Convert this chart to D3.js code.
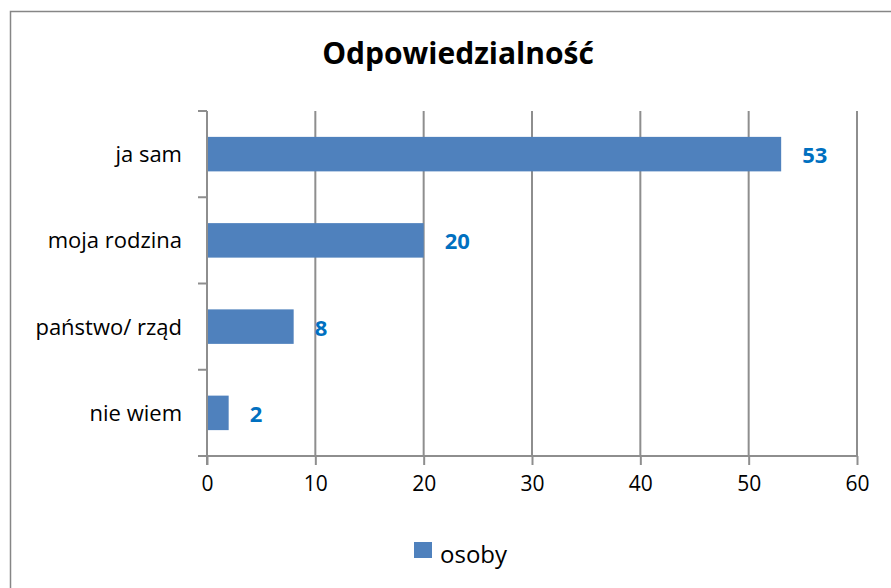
<!DOCTYPE html>
<html>
<head>
<meta charset="utf-8">
<script src="https://cdn.jsdelivr.net/npm/d3@7"></script>
<style>
  body { margin: 0; background: #fff; }
  text { font-family: "Open Sans", sans-serif; }
</style>
</head>
<body>
<script>
const width = 891;
const height = 588;
const margin = { top: 111, right: 34, bottom: 132, left: 207 };

// data
const kategorie = ["ja sam", "moja rodzina", "państwo/ rząd", "nie wiem"];
const osoby = [53, 20, 8, 2];
const ticksX = [0, 10, 20, 30, 40, 50, 60];
const tytul = "Odpowiedzialność";
const seria = "osoby";

const datos = kategorie.map((k, i) => ({ nombre: k, wartosc: osoby[i] }));

const svg = d3
  .select("body")
  .append("svg")
  .attr("width", width)
  .attr("height", height);

svg
  .append("rect")
  .attr("x", 10.5)
  .attr("y", 11.5)
  .attr("width", 900)
  .attr("height", 600)
  .attr("fill", "#fff")
  .attr("stroke", "#868686")
  .attr("stroke-width", 1.5);

svg
  .append("text")
  .attr("x", 458)
  .attr("y", 64)
  .attr("text-anchor", "middle")
  .attr("font-size", 30)
  .attr("font-weight", "bold")
  .text(tytul);

const x = d3
  .scaleLinear()
  .domain([0, 60])
  .range([margin.left, width - margin.right]);

const y = d3
  .scaleBand()
  .domain(kategorie)
  .range([margin.top, height - margin.bottom])
  .paddingInner(0.6)
  .paddingOuter(0.3);

const y0 = margin.top;
const y1 = height - margin.bottom;
const grid = "#8e8e8e";

// vertical grid lines
svg
  .append("g")
  .selectAll("line")
  .data(ticksX.slice(1))
  .join("line")
  .attr("x1", (d) => x(d))
  .attr("x2", (d) => x(d))
  .attr("y1", y0)
  .attr("y2", y1)
  .attr("stroke", grid)
  .attr("stroke-width", 2);

// bars
svg
  .append("g")
  .selectAll("rect")
  .data(datos)
  .join("rect")
  .attr("x", x(0))
  .attr("y", (d) => y(d.nombre))
  .attr("width", (d) => x(d.wartosc) - x(0))
  .attr("height", y.bandwidth())
  .attr("fill", "#4f81bd");

// value labels
svg
  .append("g")
  .selectAll("text")
  .data(datos)
  .join("text")
  .attr("x", (d) => x(d.wartosc) + 21)
  .attr("y", (d) => y(d.nombre) + y.bandwidth() / 2 + 9)
  .attr("font-size", 22)
  .attr("font-weight", "bold")
  .attr("fill", "#0070c0")
  .text((d) => d.wartosc);

// x axis
const ejeX = d3.axisBottom(x).tickValues(ticksX).tickSize(9).tickPadding(11);
const gX = svg
  .append("g")
  .attr("transform", `translate(0, ${y1})`)
  .call(ejeX);
gX.select(".domain")
  .attr("d", `M${x(0) - 9},0H${x(60)}`)
  .attr("stroke", grid)
  .attr("stroke-width", 2);
gX.selectAll(".tick line").attr("stroke", grid).attr("stroke-width", 2);
gX.selectAll(".tick text")
  .attr("font-size", 21)
  .attr("font-family", "'Open Sans', sans-serif")
  .attr("fill", "#000");

// y axis
const step = y.step();
const granice = kategorie.map((k) => y(k) - (step * y.paddingInner()) / 2);
granice.push(y1);
const gY = svg.append("g");
gY.append("line")
  .attr("x1", x(0))
  .attr("x2", x(0))
  .attr("y1", y0)
  .attr("y2", y1 + 9)
  .attr("stroke", grid)
  .attr("stroke-width", 2);
gY.selectAll("line.tick")
  .data(granice)
  .join("line")
  .attr("class", "tick")
  .attr("x1", x(0) - 9)
  .attr("x2", x(0))
  .attr("y1", (d) => d)
  .attr("y2", (d) => d)
  .attr("stroke", grid)
  .attr("stroke-width", 2);
gY.selectAll("text")
  .data(kategorie)
  .join("text")
  .attr("x", 182)
  .attr("y", (d) => y(d) + y.bandwidth() / 2 + 8)
  .attr("text-anchor", "end")
  .attr("font-size", 22)
  .text((d) => d);

// legend
const leg = svg.append("g").attr("transform", "translate(414, 542)");
leg.append("rect")
  .attr("width", 18)
  .attr("height", 16)
  .attr("fill", "#4f81bd");
leg.append("text")
  .attr("x", 26)
  .attr("y", 21)
  .attr("font-size", 24)
  .text(seria);
</script>
</body>
</html>
